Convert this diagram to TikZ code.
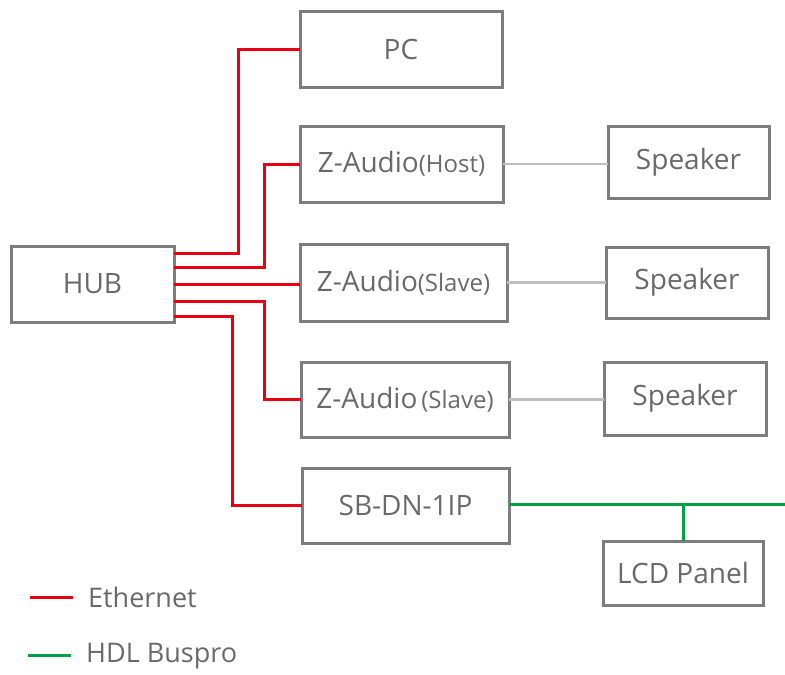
\documentclass[tikz,border=0pt]{standalone}
\usepackage{fontspec}
\setmainfont{Open Sans}
\definecolor{boxgray}{RGB}{125,125,125}
\definecolor{txtgray}{RGB}{105,105,105}
\definecolor{ethred}{RGB}{230,0,18}
\definecolor{busgreen}{RGB}{0,160,70}
\definecolor{spkline}{RGB}{190,190,190}
\begin{document}
\begin{tikzpicture}[x=1pt,y=-1pt,
  box/.style={draw=boxgray,line width=3pt,rectangle,inner sep=0pt,outer sep=0pt,
    text=txtgray,font=\fontsize{28}{32}\selectfont},
  eth/.style={draw=ethred,line width=3pt},
  bus/.style={draw=busgreen,line width=3pt},
  spk/.style={draw=spkline,line width=2.5pt},
  legtext/.style={text=txtgray,anchor=west,inner sep=0pt,font=\fontsize{27}{30}\selectfont}]
\useasboundingbox (0,0) rectangle (785,675);
\node[box,minimum width=202pt,minimum height=76pt] (PC) at (401,49) {PC};
\node[box,minimum width=203pt,minimum height=76pt] (Host) at (401.5,164) {Z-Audio{\fontsize{24}{26}\selectfont(Host)}};
\node[box,minimum width=207pt,minimum height=77pt] (Slave1) at (403.5,282.5) {Z-Audio{\fontsize{24}{26}\selectfont(Slave)}};
\node[box,minimum width=208pt,minimum height=75pt] (Slave2) at (405,399.5) {Z-Audio{\fontsize{24}{26}\selectfont\,(Slave)}};
\node[box,minimum width=207pt,minimum height=75pt] (SB) at (405.5,505.5) {SB-DN-1IP};
\node[box,minimum width=163pt,minimum height=76pt] (HUB) at (92.5,284) {HUB};
\node[box,minimum width=161pt,minimum height=72pt] (Spk1) at (688.5,162) {Speaker};
\node[box,minimum width=162pt,minimum height=71pt] (Spk2) at (687,282.5) {Speaker};
\node[box,minimum width=162pt,minimum height=73pt] (Spk3) at (685,398.5) {Speaker};
\node[box,minimum width=160pt,minimum height=64pt] (LCD) at (683,573) {LCD Panel};
% Ethernet
\draw[eth] ([yshift=31pt]HUB.east) -- ++(64,0) |- (PC.west);
\draw[eth] ([yshift=17pt]HUB.east) -- ++(90,0) |- (Host.west);
\draw[eth] (HUB.east) -- (HUB.east -| Slave1.west);
\draw[eth] ([yshift=-17pt]HUB.east) -- ++(90,0) |- (Slave2.west);
\draw[eth] ([yshift=-32pt]HUB.east) -- ++(58,0) |- (SB.west);
% speakers
\draw[spk] (Host.east) -- (Host.east -| Spk1.west);
\draw[spk] (Slave1.east) -- (Slave1.east -| Spk2.west);
\draw[spk] (Slave2.east) -- (Slave2.east -| Spk3.west);
% bus
\coordinate (busend) at (785,504);
\draw[bus] (SB.east |- busend) -- (busend);
\draw[bus] (LCD.north) -- (LCD.north |- busend);
% legend
\coordinate (l1a) at (30,597); \coordinate (l1b) at (73,597);
\coordinate (l2a) at (28,655); \coordinate (l2b) at (71,655);
\draw[eth] (l1a) -- (l1b);
\draw[bus] (l2a) -- (l2b);
\node[legtext] (leg1) at (88,597) {Ethernet};
\node[legtext] (leg2) at (86,656) {HDL Buspro};
\end{tikzpicture}
\end{document}
